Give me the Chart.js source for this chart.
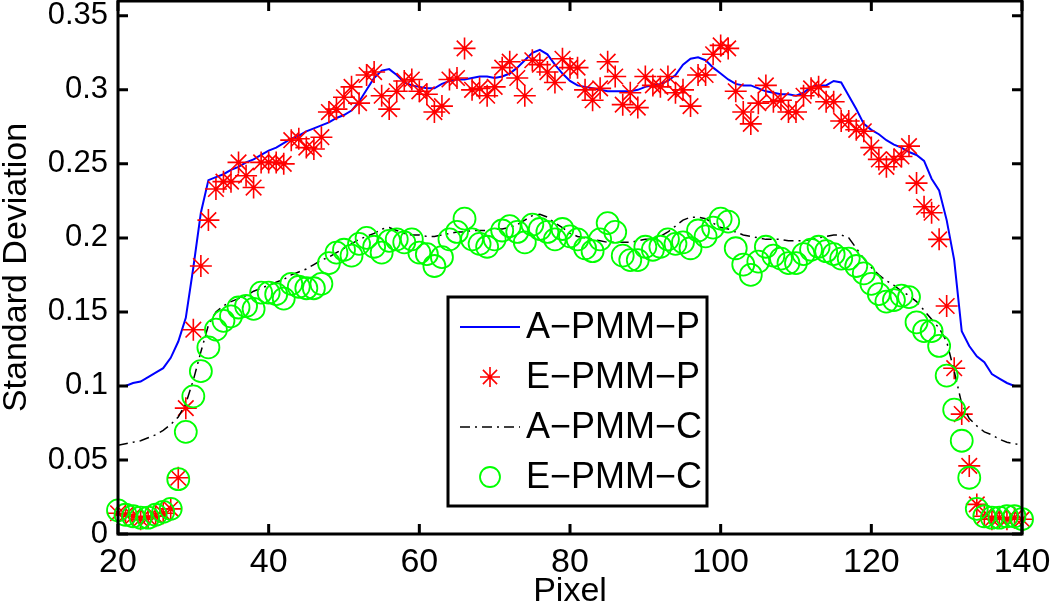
<!DOCTYPE html>
<html>
<head>
<meta charset="utf-8">
<script src="https://cdn.jsdelivr.net/npm/chart.js@4.4.1/dist/chart.umd.min.js"></script>
<style>
  html, body { margin: 0; padding: 0; background: #fff; }
  #wrap { width: 1050px; height: 609px; }
</style>
</head>
<body>
<div id="wrap"><canvas id="sdChart" width="1050" height="609"></canvas></div>
<script>
// x positions (pixel index)
const pixels = [20, 21, 22, 23, 24, 25, 26, 27, 28, 29, 30, 31, 32, 33, 34, 35, 36, 37, 38, 39,
  40, 41, 42, 43, 44, 45, 46, 47, 48, 49, 50, 51, 52, 53, 54, 55, 56, 57, 58, 59,
  60, 61, 62, 63, 64, 65, 66, 67, 68, 69, 70, 71, 72, 73, 74, 75, 76, 77, 78, 79,
  80, 81, 82, 83, 84, 85, 86, 87, 88, 89, 90, 91, 92, 93, 94, 95, 96, 97, 98, 99,
  100, 101, 102, 103, 104, 105, 106, 107, 108, 109, 110, 111, 112, 113, 114, 115, 116, 117, 118, 119,
  120, 121, 122, 123, 124, 125, 126, 127, 128, 129, 130, 131, 132, 133, 134, 135, 136, 137, 138, 139, 140];

// A-PMM-P (blue solid)
const aPmmP = [0.100, 0.100, 0.102, 0.103, 0.106, 0.109, 0.112, 0.119, 0.130, 0.146,
  0.180, 0.217, 0.239, 0.241, 0.243, 0.246, 0.248, 0.251, 0.253, 0.256,
  0.259, 0.261, 0.264, 0.267, 0.269, 0.272, 0.274, 0.276, 0.278, 0.281,
  0.283, 0.286, 0.292, 0.300, 0.308, 0.313, 0.314, 0.310, 0.305, 0.303,
  0.302, 0.301, 0.301, 0.304, 0.306, 0.307, 0.307, 0.308, 0.309, 0.309,
  0.308, 0.309, 0.311, 0.315, 0.320, 0.325, 0.327, 0.324, 0.317, 0.311,
  0.306, 0.303, 0.302, 0.301, 0.300, 0.299, 0.299, 0.299, 0.299, 0.300,
  0.302, 0.303, 0.304, 0.306, 0.310, 0.317, 0.321, 0.322, 0.320, 0.315,
  0.311, 0.307, 0.304, 0.303, 0.303, 0.301, 0.299, 0.298, 0.297, 0.297,
  0.296, 0.298, 0.302, 0.303, 0.303, 0.306, 0.305, 0.296, 0.287, 0.277,
  0.273, 0.270, 0.266, 0.263, 0.261, 0.258, 0.256, 0.252, 0.240, 0.232,
  0.212, 0.185, 0.137, 0.127, 0.120, 0.116, 0.108, 0.105, 0.102, 0.100, 0.100];

// E-PMM-P (red stars)
const ePmmP = [0.014, 0.013, 0.012, 0.010, 0.011, 0.012, 0.014, 0.017, 0.038, 0.085,
  0.138, 0.181, 0.212, 0.233, 0.238, 0.238, 0.251, 0.242, 0.234, 0.251,
  0.251, 0.251, 0.250, 0.266, 0.267, 0.261, 0.260, 0.268, 0.285, 0.287,
  0.295, 0.302, 0.291, 0.310, 0.312, 0.296, 0.287, 0.299, 0.306, 0.307,
  0.299, 0.297, 0.285, 0.289, 0.307, 0.308, 0.328, 0.300, 0.301, 0.296,
  0.302, 0.315, 0.319, 0.308, 0.296, 0.320, 0.317, 0.312, 0.305, 0.321,
  0.315, 0.315, 0.300, 0.293, 0.301, 0.319, 0.309, 0.290, 0.298, 0.288,
  0.309, 0.303, 0.302, 0.309, 0.298, 0.300, 0.289, 0.310, 0.310, 0.324,
  0.330, 0.328, 0.299, 0.285, 0.277, 0.291, 0.303, 0.292, 0.293, 0.285,
  0.285, 0.296, 0.301, 0.302, 0.292, 0.292, 0.279, 0.279, 0.273, 0.272,
  0.261, 0.253, 0.248, 0.253, 0.255, 0.262, 0.237, 0.221, 0.217, 0.199,
  0.154, 0.112, 0.081, 0.046, 0.020, 0.012, 0.010, 0.011, 0.010, 0.011, 0.010];

// A-PMM-C (black dash-dot)
const aPmmC = [0.060, 0.061, 0.062, 0.063, 0.065, 0.067, 0.070, 0.074, 0.079, 0.088,
  0.104, 0.123, 0.141, 0.150, 0.154, 0.157, 0.159, 0.161, 0.164, 0.166,
  0.168, 0.170, 0.172, 0.175, 0.177, 0.179, 0.182, 0.185, 0.187, 0.190,
  0.193, 0.196, 0.199, 0.201, 0.203, 0.206, 0.207, 0.205, 0.203, 0.202,
  0.202, 0.201, 0.201, 0.202, 0.203, 0.204, 0.204, 0.205, 0.205, 0.205,
  0.206, 0.206, 0.207, 0.209, 0.212, 0.215, 0.216, 0.214, 0.210, 0.207,
  0.203, 0.201, 0.200, 0.199, 0.198, 0.197, 0.197, 0.197, 0.197, 0.198,
  0.199, 0.199, 0.201, 0.204, 0.208, 0.212, 0.214, 0.214, 0.213, 0.210,
  0.207, 0.206, 0.204, 0.202, 0.201, 0.200, 0.199, 0.199, 0.199, 0.198,
  0.198, 0.198, 0.199, 0.200, 0.201, 0.202, 0.202, 0.200, 0.193, 0.186,
  0.180, 0.175, 0.171, 0.168, 0.164, 0.161, 0.157, 0.151, 0.145, 0.139,
  0.130, 0.110, 0.088, 0.078, 0.073, 0.069, 0.067, 0.064, 0.062, 0.061, 0.060];

// E-PMM-C (green circles)
const ePmmC = [0.016, 0.013, 0.012, 0.011, 0.011, 0.013, 0.015, 0.017, 0.037, 0.069,
  0.093, 0.110, 0.126, 0.138, 0.144, 0.147, 0.153, 0.154, 0.152, 0.163,
  0.163, 0.162, 0.159, 0.169, 0.167, 0.166, 0.166, 0.169, 0.183, 0.190,
  0.192, 0.188, 0.196, 0.200, 0.194, 0.190, 0.198, 0.199, 0.197, 0.199,
  0.190, 0.189, 0.181, 0.187, 0.199, 0.204, 0.213, 0.199, 0.196, 0.194,
  0.199, 0.205, 0.208, 0.204, 0.197, 0.209, 0.206, 0.204, 0.199, 0.206,
  0.201, 0.199, 0.193, 0.191, 0.199, 0.210, 0.204, 0.188, 0.185, 0.185,
  0.194, 0.192, 0.194, 0.199, 0.196, 0.197, 0.193, 0.205, 0.201, 0.207,
  0.213, 0.211, 0.193, 0.182, 0.175, 0.184, 0.194, 0.188, 0.186, 0.183,
  0.183, 0.189, 0.192, 0.194, 0.191, 0.189, 0.186, 0.186, 0.181, 0.176,
  0.169, 0.162, 0.157, 0.158, 0.161, 0.160, 0.143, 0.137, 0.137, 0.127,
  0.107, 0.084, 0.063, 0.038, 0.017, 0.012, 0.011, 0.011, 0.012, 0.012, 0.010];

const xTicks = [20, 40, 60, 80, 100, 120, 140];
const yTicks = [0, 0.05, 0.1, 0.15, 0.2, 0.25, 0.3, 0.35];
const seriesNames = ['A\u2212PMM\u2212P', 'E\u2212PMM\u2212P', 'A\u2212PMM\u2212C', 'E\u2212PMM\u2212C'];

const FONT = '"Liberation Sans", Arial, Helvetica, sans-serif';

function pts(ys) {
  return pixels.map((x, i) => ({ x: x, y: ys[i] }));
}

// box around the axes with inward ticks (matlab look)
const boxPlugin = {
  id: 'boxPlugin',
  afterDatasetsDraw(chart) {
    const { ctx, chartArea: a, scales } = chart;
    ctx.save();
    ctx.strokeStyle = '#000';
    ctx.lineWidth = 3;
    ctx.strokeRect(a.left, a.top, a.right - a.left, a.bottom - a.top);
    const len = 10;
    ctx.beginPath();
    xTicks.forEach(v => {
      const px = scales.x.getPixelForValue(v);
      ctx.moveTo(px, a.bottom); ctx.lineTo(px, a.bottom - len);
      ctx.moveTo(px, a.top); ctx.lineTo(px, a.top + len);
    });
    yTicks.forEach(v => {
      const py = scales.y.getPixelForValue(v);
      ctx.moveTo(a.left, py); ctx.lineTo(a.left + len, py);
      ctx.moveTo(a.right, py); ctx.lineTo(a.right - len, py);
    });
    ctx.stroke();
    ctx.restore();
  }
};

// legend box inside the plot
const legendPlugin = {
  id: 'legendPlugin',
  afterDraw(chart) {
    const ctx = chart.ctx;
    const bx = 448, by = 297, bw = 259, bh = 209;
    ctx.save();
    ctx.fillStyle = '#fff';
    ctx.fillRect(bx, by, bw, bh);
    ctx.strokeStyle = '#000';
    ctx.lineWidth = 3;
    ctx.strokeRect(bx, by, bw, bh);

    const rows = [327, 377, 427, 477];
    const ds = chart.data.datasets;
    rows.forEach((ry, i) => {
      const d = ds[i];
      if (d.showLine) {
        ctx.beginPath();
        ctx.strokeStyle = d.borderColor;
        ctx.lineWidth = d.borderWidth;
        ctx.setLineDash(d.borderDash || []);
        ctx.moveTo(460, ry);
        ctx.lineTo(520, ry);
        ctx.stroke();
        ctx.setLineDash([]);
      } else {
        ctx.strokeStyle = d.borderColor;
        ctx.fillStyle = 'rgba(0,0,0,0)';
        ctx.lineWidth = d.borderWidth;
        Chart.helpers.drawPoint(ctx, {
          pointStyle: d.pointStyle, radius: 10, borderWidth: d.borderWidth, rotation: 0
        }, 490, ry);
      }
      ctx.fillStyle = '#000';
      ctx.font = '36px ' + FONT;
      ctx.textBaseline = 'middle';
      ctx.textAlign = 'left';
      ctx.fillText(seriesNames[i], 526, ry + 1);
    });
    ctx.restore();
  }
};

const ctx = document.getElementById('sdChart').getContext('2d');
const sdChart = new Chart(ctx, {
  type: 'scatter',
  data: {
    datasets: [
      {
        label: seriesNames[0],
        data: pts(aPmmP),
        showLine: true,
        borderColor: '#0000ff',
        borderWidth: 2,
        pointRadius: 0,
        tension: 0,
        clip: false,
        order: 4
      },
      {
        label: seriesNames[1],
        data: pts(ePmmP),
        showLine: false,
        pointStyle: 'star',
        pointRadius: 11,
        pointBorderWidth: 1.6,
        borderWidth: 1.6,
        borderColor: '#ff0000',
        backgroundColor: 'rgba(0,0,0,0)',
        clip: false,
        order: 3
      },
      {
        label: seriesNames[2],
        data: pts(aPmmC),
        showLine: true,
        borderColor: '#000000',
        borderWidth: 1.5,
        borderDash: [10, 5, 2, 5],
        pointRadius: 0,
        tension: 0,
        clip: false,
        order: 2
      },
      {
        label: seriesNames[3],
        data: pts(ePmmC),
        showLine: false,
        pointStyle: 'circle',
        pointRadius: 11,
        pointBorderWidth: 1.8,
        borderWidth: 1.8,
        borderColor: '#00ff00',
        backgroundColor: 'rgba(0,0,0,0)',
        clip: false,
        order: 1
      }
    ]
  },
  options: {
    responsive: false,
    animation: false,
    devicePixelRatio: 1,
    layout: { autoPadding: false, padding: { left: 0, right: 28, top: 1, bottom: 0 } },
    plugins: {
      legend: { display: false },
      tooltip: { enabled: false }
    },
    scales: {
      x: {
        type: 'linear',
        min: 20,
        max: 140,
        afterBuildTicks: s => { s.ticks = xTicks.map(v => ({ value: v })); },
        afterFit: s => { s.height = 75; s.paddingLeft = 0; s.paddingRight = 0; },
        grid: { display: false, drawTicks: false },
        border: { display: false },
        ticks: {
          color: '#000',
          font: { family: FONT, size: 34 },
          padding: 8,
          maxRotation: 0,
          callback: v => String(v)
        },
        title: {
          display: true,
          text: 'Pixel',
          color: '#000',
          font: { family: FONT, size: 34, lineHeight: 1 },
          padding: { top: 0, bottom: 0 }
        }
      },
      y: {
        type: 'linear',
        min: 0,
        max: 0.36,
        afterBuildTicks: s => { s.ticks = yTicks.map(v => ({ value: v })); },
        afterFit: s => { s.width = 118; s.paddingTop = 0; s.paddingBottom = 0; },
        grid: { display: false, drawTicks: false },
        border: { display: false },
        ticks: {
          color: '#000',
          font: { family: FONT, size: 31 },
          padding: 10,
          callback: v => String(Math.round(v * 100) / 100)
        },
        title: {
          display: true,
          text: 'Standard Deviation',
          color: '#000',
          font: { family: FONT, size: 34, lineHeight: 1 },
          padding: { top: 0, bottom: 0 }
        }
      }
    }
  },
  plugins: [boxPlugin, legendPlugin]
});
</script>
</body>
</html>
